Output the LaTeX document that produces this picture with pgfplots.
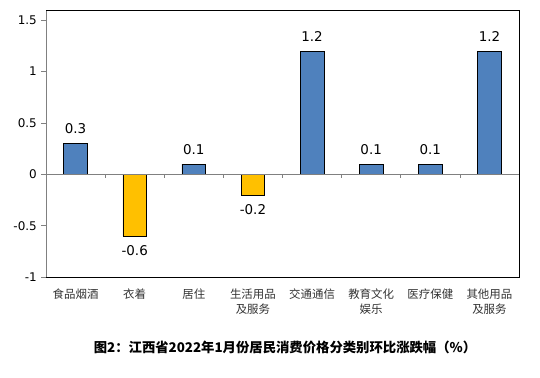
\documentclass[border=0pt]{standalone}
\usepackage{fontspec}
\setmainfont{DejaVu Sans}
\newfontfamily\cjk{Noto Sans CJK SC}
\usepackage{pgfplots}
\pgfplotsset{compat=1.18}
\definecolor{barblue}{RGB}{79,129,189}
\definecolor{baryellow}{RGB}{255,192,0}
\begin{document}
\begin{tikzpicture}[x=1bp,y=1bp]
\path[use as bounding box] (0,0) rectangle (540,377);
\begin{axis}[
  at={(46bp,100bp)}, anchor=south west,
  scale only axis, width=473bp, height=267bp,
  xmin=-0.5, xmax=7.5, ymin=-1, ymax=1.6,
  axis line style={draw=none},
  clip=false,
  xtick={0,...,7},
  xticklabels={食品烟酒,衣着,居住,生活用品\\及服务,交通通信,教育文化\\娱乐,医疗保健,其他用品\\及服务},
  x tick label style={font=\cjk\fontsize{11.5}{15}\selectfont, align=center, anchor=north, inner sep=0pt, yshift=-7bp, text=black!80},
  xtick pos=bottom,
  major x tick style={draw=none},
  ytick={-1,-0.5,0,0.5,1,1.5},
  yticklabels={-1,-0.5,0,0.5,1,1.5},
  ytick pos=left,
  y tick label style={font=\fontsize{12}{14}\selectfont, inner sep=0pt, xshift=-4bp},
  major y tick style={gray, line width=0.6bp},
  tick align=outside, major tick length=5bp,
]
\addplot[ybar, bar shift=0pt, bar width=0.4, fill=barblue, draw=black, line width=0.6bp,
  point meta=explicit symbolic, nodes near coords,
  nodes near coords style={font=\fontsize{13.5}{15}\selectfont, anchor=base, inner sep=0pt, yshift=10bp}]
  coordinates {(0,0.3)[0.3] (2,0.1)[0.1] (4,1.2)[1.2] (5,0.1)[0.1] (6,0.1)[0.1] (7,1.2)[1.2]};
\addplot[ybar, bar shift=0pt, bar width=0.4, fill=baryellow, draw=black, line width=0.6bp,
  point meta=explicit symbolic, nodes near coords,
  nodes near coords style={font=\fontsize{13.5}{15}\selectfont, anchor=base, inner sep=0pt, yshift=-20bp}]
  coordinates {(1,-0.6)[-0.6] (3,-0.2)[-0.2]};
\draw[gray, line width=0.6bp] (axis cs:-0.5,0) -- (axis cs:7.5,0);
\pgfplotsinvokeforeach{0.5,1.5,2.5,3.5,4.5,5.5,6.5}{
  \draw[gray, line width=0.6bp] (axis cs:#1,0) -- ([yshift=-4bp]axis cs:#1,0);
}
\draw[gray, line width=0.7bp] (axis cs:-0.5,-1) -- (axis cs:-0.5,1.6);
\draw[black, line width=0.9bp] (axis cs:-0.5,1.6) -- (axis cs:7.5,1.6) -- (axis cs:7.5,-1) -- (axis cs:-0.5,-1);
\end{axis}
\node[font=\cjk\bfseries\fontsize{13.4}{15}\selectfont] at (285,30) {图2：江西省2022年1月份居民消费价格分类别环比涨跌幅（\%）};
\end{tikzpicture}
\end{document}
